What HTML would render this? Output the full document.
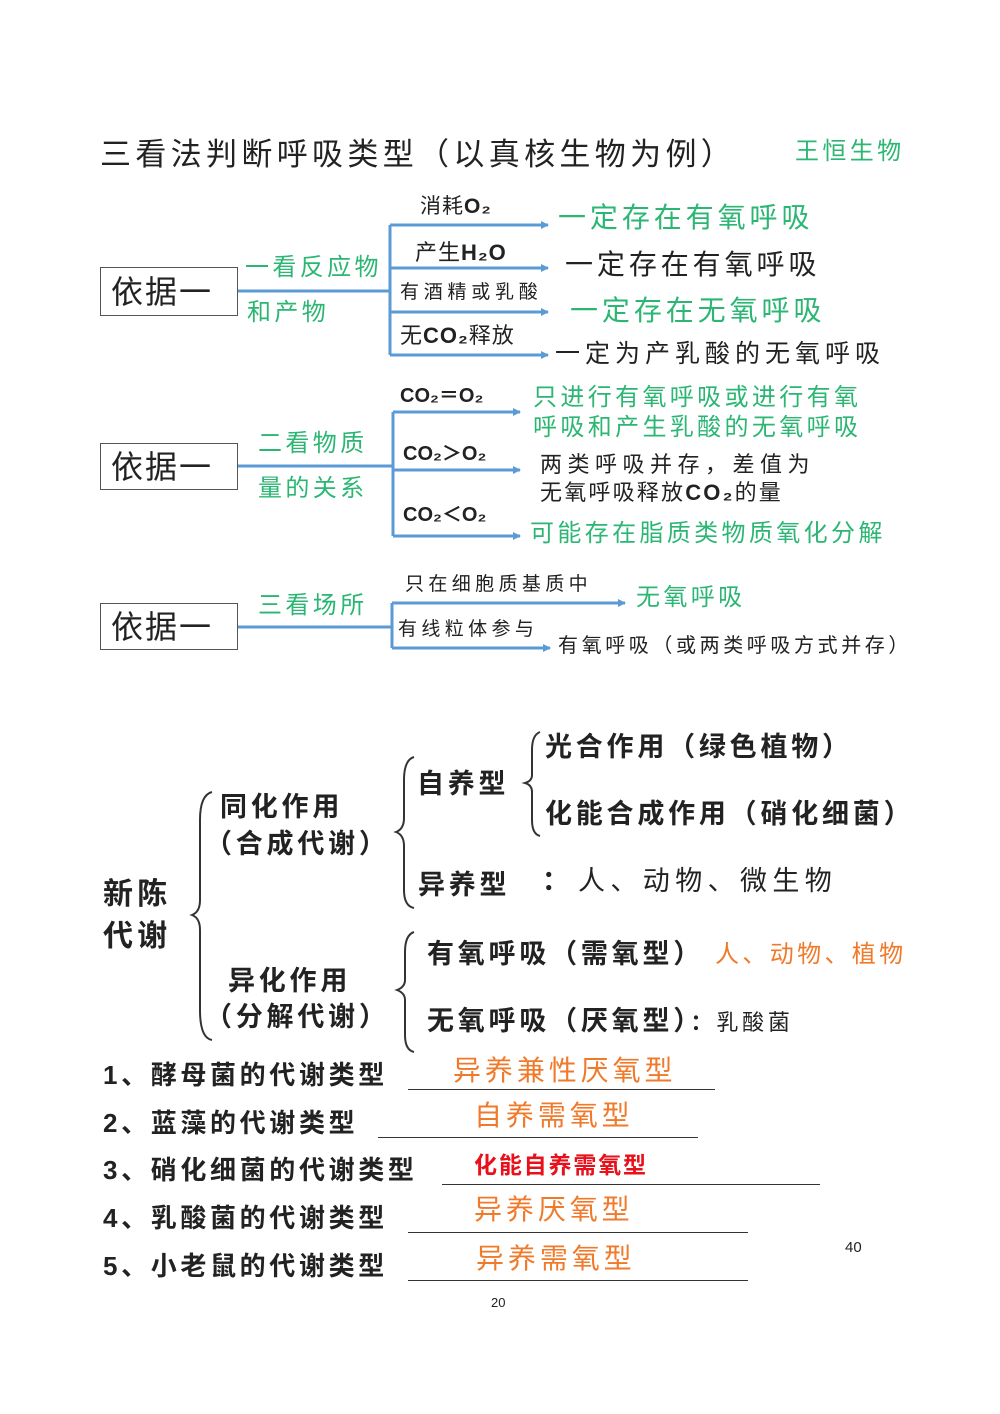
<!DOCTYPE html>
<html><head><meta charset="utf-8"><style>
body{margin:0;width:1000px;height:1414px;background:#fff;position:relative;overflow:hidden;font-family:"Liberation Sans","Noto Sans CJK SC",sans-serif;}
.t{position:absolute;white-space:nowrap;line-height:1;color:#222;letter-spacing:0.14em;}
.g{color:#2bb673;}
.o{color:#f07a2a;}
.b{font-weight:bold;}
.box{position:absolute;border:1.5px solid #555;background:#fff;font-size:32px;line-height:1;box-sizing:border-box;padding-left:10px;display:flex;align-items:center;color:#222;letter-spacing:2px;}
svg{position:absolute;left:0;top:0;}
.u{position:absolute;height:0;border-top:1.5px solid #333;}
</style></head><body>
<svg width="1000" height="1414">
<defs><marker id="a" markerWidth="8" markerHeight="8" refX="7" refY="4" orient="auto" markerUnits="userSpaceOnUse"><path d="M0,0 L8,4 L0,8 z" fill="#5b9bd5"/></marker></defs>
<g stroke="#5b9bd5" stroke-width="3" fill="none">
<line x1="238" y1="291" x2="390" y2="291"/>
<line x1="390" y1="225" x2="390" y2="355"/>
<line x1="390" y1="225" x2="548" y2="225" marker-end="url(#a)"/>
<line x1="390" y1="268" x2="548" y2="268" marker-end="url(#a)"/>
<line x1="390" y1="312" x2="548" y2="312" marker-end="url(#a)"/>
<line x1="390" y1="355" x2="548" y2="355" marker-end="url(#a)"/>
<line x1="238" y1="466" x2="393" y2="466"/>
<line x1="393" y1="412" x2="393" y2="536"/>
<line x1="393" y1="412" x2="520" y2="412" marker-end="url(#a)"/>
<line x1="393" y1="470" x2="520" y2="470" marker-end="url(#a)"/>
<line x1="393" y1="536" x2="520" y2="536" marker-end="url(#a)"/>
<line x1="238" y1="627" x2="392" y2="627"/>
<line x1="392" y1="603" x2="392" y2="648"/>
<line x1="392" y1="603" x2="625" y2="603" marker-end="url(#a)"/>
<line x1="392" y1="648" x2="550" y2="648" marker-end="url(#a)"/>
</g>
<g stroke="#333" stroke-width="2" fill="none">
<path d="M212,792 Q200,795 200,820 L200,900 Q200,912 192,915 Q200,918 200,930 L200,1010 Q200,1038 212,1040"/>
<path d="M414,757 Q404,760 404,780 L404,818 Q404,829 396,832 Q404,835 404,846 L404,890 Q404,906 414,908"/>
<path d="M540,732 Q532,735 532,750 L532,775 Q532,781 525,783 Q532,785 532,792 L532,820 Q532,834 540,836"/>
<path d="M414,932 Q405,935 405,952 L405,980 Q405,987 397,990 Q405,993 405,1000 L405,1035 Q405,1050 414,1052"/>
</g>
</svg>
<div class="t" style="left:100px;top:139px;font-size:31px;">三看法判断呼吸类型（以真核生物为例）</div>
<div class="t g" style="left:795px;top:140px;font-size:24px;">王恒生物</div>

<div class="box" style="left:100px;top:267px;width:138px;height:49px;">依据一</div>
<div class="t g" style="left:245px;top:256px;font-size:24px;">一看反应物</div>
<div class="t g" style="left:247px;top:301px;font-size:24px;">和产物</div>
<div class="t" style="left:420px;top:196px;font-size:21px;letter-spacing:1px;">消耗<b>O₂</b></div>
<div class="t" style="left:415px;top:242px;font-size:22px;letter-spacing:1px;">产生<b>H₂O</b></div>
<div class="t" style="left:400px;top:283px;font-size:19px;letter-spacing:0.25em;">有酒精或乳酸</div>
<div class="t" style="left:400px;top:325px;font-size:22px;letter-spacing:1px;">无<b>CO₂</b>释放</div>
<div class="t g" style="left:558px;top:204px;font-size:28px;">一定存在有氧呼吸</div>
<div class="t" style="left:565px;top:251px;font-size:28px;">一定存在有氧呼吸</div>
<div class="t g" style="left:570px;top:297px;font-size:28px;">一定存在无氧呼吸</div>
<div class="t" style="left:555px;top:342px;font-size:25px;letter-spacing:0.2em;">一定为产乳酸的无氧呼吸</div>

<div class="box" style="left:100px;top:443px;width:138px;height:47px;">依据一</div>
<div class="t g" style="left:258px;top:432px;font-size:24px;">二看物质</div>
<div class="t g" style="left:258px;top:477px;font-size:24px;">量的关系</div>
<div class="t b" style="left:400px;top:386px;font-size:20px;letter-spacing:0;">CO₂＝O₂</div>
<div class="t b" style="left:403px;top:444px;font-size:20px;letter-spacing:0;">CO₂＞O₂</div>
<div class="t b" style="left:403px;top:505px;font-size:20px;letter-spacing:0;">CO₂＜O₂</div>
<div class="t g" style="left:533px;top:386px;font-size:24px;">只进行有氧呼吸或进行有氧</div>
<div class="t g" style="left:533px;top:416px;font-size:24px;">呼吸和产生乳酸的无氧呼吸</div>
<div class="t" style="left:540px;top:454px;font-size:22px;letter-spacing:0.25em;">两类呼吸并存，差值为</div>
<div class="t" style="left:540px;top:482px;font-size:22px;letter-spacing:0.1em;">无氧呼吸释放<b>CO₂</b>的量</div>
<div class="t g" style="left:530px;top:522px;font-size:24px;">可能存在脂质类物质氧化分解</div>

<div class="box" style="left:100px;top:603px;width:138px;height:47px;">依据一</div>
<div class="t g" style="left:258px;top:594px;font-size:24px;">三看场所</div>
<div class="t" style="left:405px;top:575px;font-size:19px;letter-spacing:0.23em;">只在细胞质基质中</div>
<div class="t" style="left:398px;top:620px;font-size:19px;letter-spacing:0.23em;">有线粒体参与</div>
<div class="t g" style="left:636px;top:586px;font-size:24px;">无氧呼吸</div>
<div class="t" style="left:558px;top:636px;font-size:20px;letter-spacing:0.18em;">有氧呼吸（或两类呼吸方式并存）</div>

<div class="t b" style="left:103px;top:880px;font-size:30px;">新陈</div>
<div class="t b" style="left:103px;top:922px;font-size:30px;">代谢</div>
<div class="t b" style="left:220px;top:794px;font-size:27px;">同化作用</div>
<div class="t b" style="left:205px;top:831px;font-size:27px;">（合成代谢）</div>
<div class="t b" style="left:228px;top:968px;font-size:27px;">异化作用</div>
<div class="t b" style="left:205px;top:1004px;font-size:27px;">（分解代谢）</div>
<div class="t b" style="left:417px;top:771px;font-size:27px;">自养型</div>
<div class="t b" style="left:418px;top:872px;font-size:27px;">异养型</div>
<div class="t b" style="left:542px;top:868px;font-size:27px;">：</div>
<div class="t" style="left:578px;top:868px;font-size:27px;letter-spacing:0.2em;">人、动物、微生物</div>
<div class="t b" style="left:545px;top:734px;font-size:27px;">光合作用（绿色植物）</div>
<div class="t b" style="left:545px;top:801px;font-size:27px;">化能合成作用（硝化细菌）</div>
<div class="t b" style="left:427px;top:941px;font-size:27px;">有氧呼吸（需氧型）</div>
<div class="t o" style="left:715px;top:943px;font-size:24px;">人、动物、植物</div>
<div class="t b" style="left:427px;top:1008px;font-size:27px;">无氧呼吸（厌氧型）<span style="font-size:22px;">：</span><span style="font-weight:normal;font-size:22px;">乳酸菌</span></div>

<div class="t b" style="left:103px;top:1062px;font-size:26px;">1、酵母菌的代谢类型</div>
<div class="u" style="left:408px;top:1089px;width:307px;"></div>
<div class="t o" style="left:453px;top:1057px;font-size:28px;">异养兼性厌氧型</div>
<div class="t b" style="left:103px;top:1110px;font-size:26px;">2、蓝藻的代谢类型</div>
<div class="u" style="left:378px;top:1137px;width:320px;"></div>
<div class="t o" style="left:474px;top:1102px;font-size:28px;">自养需氧型</div>
<div class="t b" style="left:103px;top:1157px;font-size:26px;">3、硝化细菌的代谢类型</div>
<div class="u" style="left:442px;top:1184px;width:378px;"></div>
<div class="t b" style="left:474px;top:1154px;font-size:23px;color:#e8101a;letter-spacing:0.08em;">化能自养需氧型</div>
<div class="t b" style="left:103px;top:1205px;font-size:26px;">4、乳酸菌的代谢类型</div>
<div class="u" style="left:408px;top:1232px;width:340px;"></div>
<div class="t o" style="left:474px;top:1196px;font-size:28px;">异养厌氧型</div>
<div class="t b" style="left:103px;top:1253px;font-size:26px;">5、小老鼠的代谢类型</div>
<div class="u" style="left:408px;top:1280px;width:340px;"></div>
<div class="t o" style="left:476px;top:1245px;font-size:28px;">异养需氧型</div>
<div class="t" style="left:845px;top:1240px;font-size:15px;letter-spacing:0;">40</div>
<div class="t" style="left:491px;top:1296px;font-size:13px;letter-spacing:0;">20</div>
</body></html>
